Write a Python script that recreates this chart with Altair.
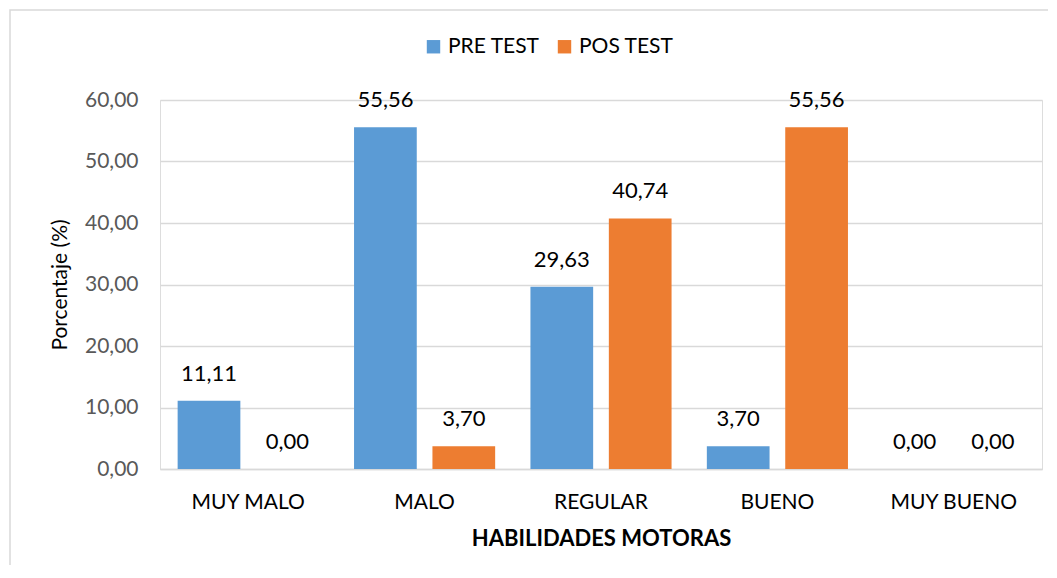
import altair as alt
import pandas as pd

categories = ["MUY MALO", "MALO", "REGULAR", "BUENO", "MUY BUENO"]
pre_test = [11.11, 55.56, 29.63, 3.70, 0.00]
pos_test = [0.00, 3.70, 40.74, 55.56, 0.00]
series = ["PRE TEST", "POS TEST"]
colors = ["#5B9BD5", "#ED7D31"]

rows = []
for c, a, b in zip(categories, pre_test, pos_test):
    rows.append({"cat": c, "serie": series[0], "value": a})
    rows.append({"cat": c, "serie": series[1], "value": b})
df = pd.DataFrame(rows)

FONT = "Lato"

x = alt.X("cat:N", sort=categories,
          scale=alt.Scale(paddingInner=0.2, paddingOuter=0.1),
          axis=alt.Axis(title="HABILIDADES MOTORAS", labelAngle=0, labelFontSize=21,
                        labelColor="#000000", labelPadding=22, ticks=False,
                        domainColor="#d9d9d9", domainWidth=1.5,
                        titleFontSize=22, titleFontWeight="bold", titlePadding=16,
                        titleColor="#000000"))
xo = alt.XOffset("serie:N", sort=series, scale=alt.Scale(paddingInner=0.2))

y = alt.Y("value:Q", scale=alt.Scale(domain=[0, 60]),
          axis=alt.Axis(title="Porcentaje (%)", values=[0, 10, 20, 30, 40, 50, 60],
                        labelExpr="replace(format(datum.value, '.2f'), '.', ',')",
                        labelFontSize=21, labelColor="#595959", labelPadding=22,
                        ticks=False, domain=False, gridColor="#d9d9d9", gridWidth=1.5,
                        titleFontSize=21, titleFontWeight="normal", titleColor="#000000",
                        titlePadding=14))

color = alt.Color("serie:N", sort=series,
                  scale=alt.Scale(domain=series, range=colors),
                  legend=alt.Legend(title=None, orient="none", direction="horizontal",
                                    legendX=263, legendY=-64, symbolType="square",
                                    symbolSize=180, labelFontSize=21, labelColor="#000000",
                                    labelOffset=4, columnPadding=14, symbolStrokeWidth=0))

bars = alt.Chart(df).mark_bar().encode(x=x, xOffset=xo, y=y, color=color)

labels = alt.Chart(df).transform_calculate(
    lab="replace(format(datum.value, '.2f'), '.', ',')"
).mark_text(baseline="bottom", dy=-15, fontSize=22, color="#000000", font=FONT).encode(
    x=alt.X("cat:N", sort=categories), xOffset=alt.XOffset("serie:N", sort=series),
    y="value:Q", text="lab:N")

border = alt.Chart(pd.DataFrame({"k": [0]})).mark_rect(
    fill=None, stroke="#d9d9d9", strokeWidth=1.5, clip=False
).encode(x=alt.value(-150), x2=alt.value(940), y=alt.value(-90), y2=alt.value(640))

chart = alt.layer(bars, labels, border).properties(
    width=882, height=369,
    autosize=alt.AutoSizeParams(type="none"),
    padding={"left": 152, "top": 92, "right": 6, "bottom": 96},
).configure_view(stroke=None).configure(font=FONT)

chart.save("out.html", embed_options={"renderer": "svg", "actions": False})
